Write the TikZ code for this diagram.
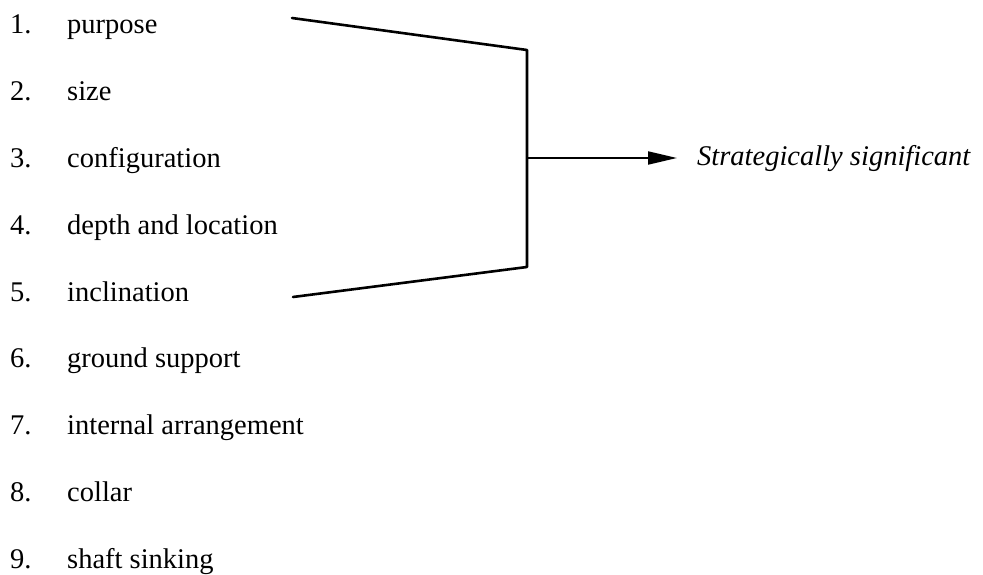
\documentclass[tikz,border=0pt]{standalone}
\usepackage{fontspec}
\setmainfont{Liberation Serif}
\usetikzlibrary{arrows.meta}
\begin{document}
\begin{tikzpicture}[x=1pt,y=-1pt,
  item/.style={anchor=base west,inner sep=0pt,font=\fontsize{28.5}{34}\selectfont},
  brk/.style={line width=2.6pt,line join=round,line cap=round},
  arr/.style={line width=2pt,-{Triangle[length=29pt,width=13pt]}}]
\useasboundingbox (0,0) rectangle (983,575);
\foreach \n/\t [count=\i from 0] in {1/purpose,2/size,3/configuration,4/depth and location,5/inclination,6/ground support,7/internal arrangement,8/collar,9/shaft sinking}{
  \node[item] (num\n) at (10,34+66.75*\i) {\n.};
  \node[item] (txt\n) at (67,34+66.75*\i) {\t};
}
\node[item,font=\fontsize{28.5}{34}\selectfont\itshape] (strat) at (697,165) {Strategically significant};
\coordinate (topstart) at (292,18);
\coordinate (topcorner) at (527,50);
\coordinate (botcorner) at (527,267);
\coordinate (botstart) at (293,297);
\coordinate (mid) at (527,158);
\draw[brk] (topstart) -- (topcorner) -- (botcorner) -- (botstart);
\draw[arr,shorten >=20pt] (mid) -- (mid -| strat.west);
\end{tikzpicture}
\end{document}
